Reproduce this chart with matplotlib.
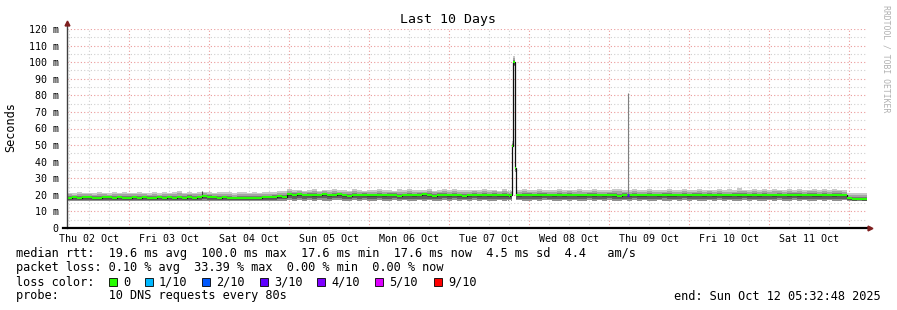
import numpy as np
import matplotlib
matplotlib.use("Agg")
import matplotlib.pyplot as plt
from matplotlib.patches import Rectangle

W, H = 897, 310

# --- data (ms), 1.5 h steps starting Thu 02 Oct 05:32:48 ---
median_ms = [
    18.2, 18.6, 18.0, 18.4, 18.8, 18.3, 18.1, 18.5, 18.7, 18.2, 18.4, 18.0, 18.3, 18.6, 18.2, 18.4,
    18.3, 18.0, 18.5, 18.2, 18.6, 18.1, 18.4, 18.3, 18.7, 18.2, 18.6, 19.2, 18.8, 18.4, 18.2, 18.5,
    18.1, 17.9, 18.2, 17.8, 18.0, 18.3, 18.2, 18.5, 18.4, 18.8, 19.0, 18.9, 20.3, 20.1, 20.4, 19.9,
    20.2, 19.7, 19.9, 20.4, 19.6, 20.0, 20.3, 19.8, 19.5, 20.1, 19.9, 20.2, 19.6, 19.8, 20.0, 19.7,
    19.9, 20.2, 19.5, 19.8, 20.1, 19.6, 19.9, 20.3, 19.7, 19.4, 19.9, 20.1, 19.6, 20.0, 19.8, 19.5,
    19.8, 20.0, 19.6, 19.9, 19.7, 20.1, 19.6, 19.8, 19.7, 19.9, 19.6, 19.9, 20.1, 19.7, 19.8, 20.0,
    19.8, 19.6, 20.0, 19.7, 20.2, 19.9, 19.6, 19.8, 20.1, 19.7, 19.9, 19.6, 20.0, 19.8, 19.5, 19.9,
    19.7, 20.0, 19.8, 19.6, 20.1, 19.9, 19.7, 20.2, 19.8, 19.6, 19.9, 20.1, 19.7, 19.8, 20.0, 19.6,
    19.9, 19.7, 20.1, 19.8, 19.6, 20.0, 19.8, 20.2, 19.7, 19.9, 19.6, 20.0, 19.8, 19.7, 20.1, 19.9,
    19.8, 20.0, 19.7, 19.9, 20.2, 19.8, 19.6, 20.0, 19.9, 19.7, 20.1, 19.8, 17.8, 17.5, 17.6, 17.6,
]
max_ms = [
    21.3, 21.0, 21.6, 21.2, 21.4, 21.1, 21.8, 21.3, 21.0, 21.5, 21.2, 21.7, 21.4, 21.1, 21.6, 21.3,
    21.2, 21.5, 21.0, 21.8, 21.3, 21.6, 22.1, 21.4, 21.7, 21.3, 21.9, 22.0, 21.6, 21.4, 21.8, 21.5,
    21.6, 21.2, 21.5, 21.8, 21.4, 21.7, 21.3, 21.9, 22.0, 21.6, 22.4, 22.2, 23.6, 22.8, 23.2, 22.6,
    22.9, 23.4, 22.6, 23.0, 22.7, 23.5, 22.8, 23.1, 22.6, 23.3, 22.9, 22.5, 23.2, 22.8, 23.6, 22.7,
    23.0, 22.6, 23.3, 22.8, 23.4, 22.7, 23.1, 22.9, 23.5, 22.6, 23.0, 23.3, 22.8, 23.7, 22.9, 23.1,
    22.7, 23.2, 22.9, 23.4, 22.8, 23.1, 22.6, 23.3, 22.9, 23.0, 22.8, 23.4, 22.7, 23.1, 23.3, 22.9,
    23.1, 22.8, 23.6, 22.9, 23.2, 22.7, 23.4, 23.0, 22.8, 23.5, 22.9, 23.2, 22.7, 23.3, 23.8, 23.0,
    22.9, 23.3, 22.8, 23.1, 23.6, 22.9, 23.2, 22.7, 23.4, 23.0, 22.8, 23.5, 22.9, 23.2, 23.7, 23.0,
    23.2, 22.8, 23.5, 23.0, 23.3, 22.9, 23.9, 23.1, 22.8, 23.4, 23.0, 23.6, 22.9, 23.3, 23.1, 22.8,
    23.3, 23.0, 23.6, 22.9, 23.2, 23.8, 23.0, 23.4, 22.9, 23.5, 23.1, 22.8, 21.3, 21.0, 21.2, 20.9,
]
min_ms = [
    16.3, 16.1, 16.4, 16.2, 16.0, 16.3, 16.2, 16.4, 16.1, 16.3, 16.2, 16.0, 16.4, 16.2, 16.3, 16.1,
    16.2, 16.4, 16.1, 16.3, 16.0, 16.2, 16.4, 16.1, 16.3, 16.2, 16.0, 16.3, 16.2, 16.4, 16.1, 16.3,
    16.2, 16.0, 16.3, 16.1, 16.2, 16.4, 16.0, 16.3, 16.2, 16.1, 16.3, 16.4, 16.6, 16.5, 16.7, 16.4,
    16.6, 16.4, 16.7, 16.5, 16.3, 16.6, 16.8, 16.4, 16.5, 16.7, 16.3, 16.6, 16.5, 16.4, 16.7, 16.5,
    16.4, 16.6, 16.5, 16.7, 16.3, 16.5, 16.6, 16.4, 16.7, 16.5, 16.3, 16.6, 16.5, 16.8, 16.4, 16.6,
    16.5, 16.7, 16.4, 16.6, 16.5, 16.3, 16.6, 16.5, 16.6, 16.4, 16.7, 16.5, 16.4, 16.6, 16.5, 16.7,
    16.6, 16.4, 16.5, 16.7, 16.3, 16.6, 16.5, 16.4, 16.7, 16.5, 16.6, 16.4, 16.8, 16.5, 16.3, 16.6,
    16.5, 16.7, 16.4, 16.6, 16.5, 16.3, 16.7, 16.5, 16.4, 16.6, 16.5, 16.7, 16.4, 16.6, 16.5, 16.3,
    16.6, 16.4, 16.7, 16.5, 16.6, 16.3, 16.5, 16.7, 16.4, 16.6, 16.5, 16.4, 16.7, 16.5, 16.6, 16.4,
    16.5, 16.7, 16.4, 16.6, 16.3, 16.5, 16.7, 16.4, 16.6, 16.5, 16.3, 16.6, 16.1, 16.0, 16.2, 16.0,
]

# spike on Tue 07 Oct, 18 min steps from hour 132 (replaces two coarse steps)
spike_start_h = 132.0
spike_median = [19.6, 19.8, 19.5, 19.7, 19.6, 49.5, 100.2, 100.0, 36.0, 19.8]
spike_max = [22.5, 23.0, 22.4, 22.8, 22.6, 52.5, 104.0, 103.5, 38.5, 22.9]
spike_min = [16.6, 16.5, 16.7, 16.6, 16.5, 47.0, 98.0, 97.5, 34.0, 16.6]

# single samples reaching outside the smoke band
outlier_h = [40.5, 168.3]
outlier_ms = [22.3, 81.5]
outlier_color = ["#404040", "#808080"]

# packet loss events (hour, loss bucket index)
loss_event_h = [168.3]
loss_event_idx = [3]

loss_labels = ["0", "1/10", "2/10", "3/10", "4/10", "5/10", "9/10"]
loss_colors = ["#26ff00", "#00b8ff", "#0059ff", "#5e00ff", "#7e00ff", "#dd00ff", "#ff0000"]

day_labels = ["Thu 02 Oct", "Fri 03 Oct", "Sat 04 Oct", "Sun 05 Oct", "Mon 06 Oct",
              "Tue 07 Oct", "Wed 08 Oct", "Thu 09 Oct", "Fri 10 Oct", "Sat 11 Oct"]

stats_lines = [
    "median rtt:  19.6 ms avg  100.0 ms max  17.6 ms min  17.6 ms now  4.5 ms sd  4.4   am/s",
    "packet loss: 0.10 % avg  33.39 % max  0.00 % min  0.00 % now",
]
probe_line = "probe:       10 DNS requests every 80s"
end_line = "end: Sun Oct 12 05:32:48 2025"

# --- assemble step series ---
step = 1.5
base_t = np.arange(len(median_ms)) * step
i0 = int(spike_start_h / step)
i1 = i0 + 2
spike_t = spike_start_h + np.arange(len(spike_median)) * 0.3
t = np.concatenate([base_t[:i0], spike_t, base_t[i1:]])
med = np.concatenate([median_ms[:i0], spike_median, median_ms[i1:]])
hi = np.concatenate([max_ms[:i0], spike_max, max_ms[i1:]])
lo = np.concatenate([min_ms[:i0], spike_min, min_ms[i1:]])
t_end = np.append(t[1:], 240.0)
te = np.append(t, 240.0)
ext = lambda a: np.append(a, a[-1])

plt.rcParams["font.family"] = "DejaVu Sans Mono"
fs = 8.55      # legend text
fs_tick = 7.2  # axis labels

fig = plt.figure(figsize=(W / 100, H / 100), dpi=100)
fig.patch.set_facecolor("white")
ax = fig.add_axes([67 / W, 82 / H, 800 / W, 199 / H])
ax.set_xlim(0, 240)
ax.set_ylim(0, 120)

# grid
midnight0 = 24 - (5 + 32 / 60 + 48 / 3600)
for k in range(-1, 11):
    for q in range(4):
        x = midnight0 + 24 * k + 6 * q
        if 0 < x < 240:
            c = "#eb9a9a" if q == 0 else "#cfcfcf"
            ax.axvline(x, color=c, lw=0.8, ls=(0, (1, 2)), zorder=1)
for v in range(5, 121, 5):
    c = "#eb9a9a" if v % 10 == 0 else "#cfcfcf"
    ax.axhline(v, color=c, lw=0.8, ls=(0, (1, 2)), zorder=1)

# smoke: shades between min / median / max
below = [(0.0, 0.35, "#909090"), (0.35, 0.75, "#606060"), (0.75, 1.0, "#4a4a4a")]
above = [(0.0, 0.3, "#7a7a7a"), (0.3, 0.65, "#a4a4a4"), (0.65, 1.0, "#c8c8c8")]
for a, b, c in below:
    ax.fill_between(te, ext(lo + (med - lo) * a), ext(lo + (med - lo) * b),
                    step="post", color=c, lw=0, zorder=2)
for a, b, c in above:
    ax.fill_between(te, ext(med + (hi - med) * a), ext(med + (hi - med) * b),
                    step="post", color=c, lw=0, zorder=2)

for h, v, c in zip(outlier_h, outlier_ms, outlier_color):
    ax.vlines(h, 20, v, color=c, lw=0.8, zorder=2)

# median line
ax.step(te, ext(med), where="post", color="#101010", lw=0.9, zorder=3)
ax.hlines(med, t, t_end, color=loss_colors[0], lw=1.5, zorder=4)
for h, li in zip(loss_event_h, loss_event_idx):
    j = np.searchsorted(t, h, side="right") - 1
    ax.hlines(med[j], h - 0.3, h + 0.3, color=loss_colors[li], lw=2, zorder=5)

# axes
for s in ax.spines.values():
    s.set_visible(False)
ax.plot([0, 0], [0, 1.03], transform=ax.transAxes, color="#404040", lw=1, clip_on=False, zorder=6)
ax.plot([-0.005, 1.004], [0, 0], transform=ax.transAxes, color="black", lw=1.6, clip_on=False, zorder=6)
ax.plot([0], [1.03], transform=ax.transAxes, marker="^", color="#7f1f1f", ms=3.5, clip_on=False, zorder=7)
ax.plot([1.004], [0], transform=ax.transAxes, marker=">", color="#7f1f1f", ms=3.5, clip_on=False, zorder=7)

yt = list(range(0, 121, 10))
ax.set_yticks(yt, ["0" if v == 0 else f"{v} m" for v in yt])
noons = [midnight0 - 12 + 24 * k for k in range(len(day_labels))]
ax.set_xticks(noons, day_labels)
ax.tick_params(axis="both", length=0, labelsize=fs_tick, colors="black")
ax.tick_params(axis="y", pad=6)
ax.tick_params(axis="x", pad=4)

# texts
fx = lambda x: x / W
fy = lambda y: 1 - y / H
fig.text(fx(448), fy(19), "Last 10 Days", ha="center", va="center", fontsize=9.5)
fig.text(fx(11), fy(127), "Seconds", ha="center", va="center", rotation=90, fontsize=fs)
fig.text(fx(886), fy(5), "RRDTOOL / TOBI OETIKER", ha="center", va="top", rotation=270,
         fontsize=5.9, color="#b0b0b0")

fig.text(fx(16), fy(254), stats_lines[0], ha="left", va="center", fontsize=fs)
fig.text(fx(16), fy(268), stats_lines[1], ha="left", va="center", fontsize=fs)
fig.text(fx(16), fy(282), "loss color:", ha="left", va="center", fontsize=fs)
loss_x = [109, 145, 202, 260, 317, 375, 434]
for x, lab, c in zip(loss_x, loss_labels, loss_colors):
    fig.patches.append(Rectangle((fx(x), fy(286)), 8 / W, 8 / H, transform=fig.transFigure,
                                 facecolor=c, edgecolor="black", lw=0.6))
    fig.text(fx(x + 14), fy(282), lab, ha="left", va="center", fontsize=fs)
fig.text(fx(16), fy(296), probe_line, ha="left", va="center", fontsize=fs)
fig.text(fx(881), fy(296), end_line, ha="right", va="center", fontsize=fs)

fig.savefig("out.png", dpi=100)
